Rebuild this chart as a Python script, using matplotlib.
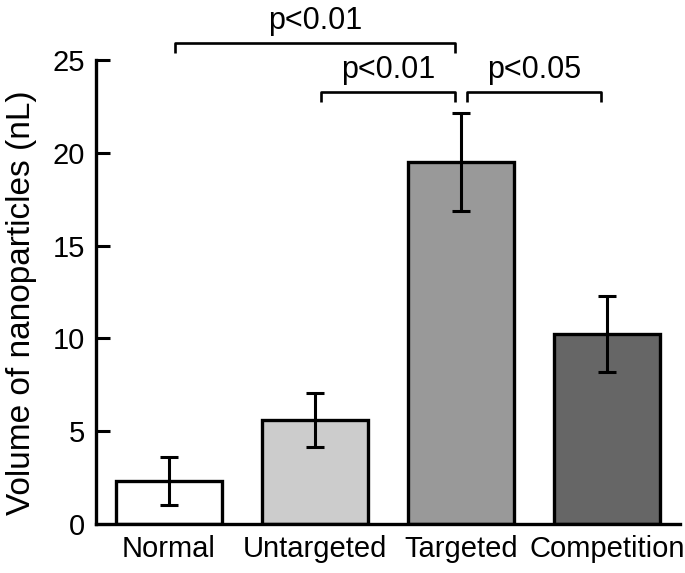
import matplotlib
matplotlib.use("Agg")
import matplotlib.pyplot as plt

categories = ["Normal", "Untargeted", "Targeted", "Competition"]
values = [2.3, 5.6, 19.5, 10.25]
errors = [1.3, 1.47, 2.65, 2.05]
colors = ["#ffffff", "#cccccc", "#999999", "#666666"]
yticks = [0, 5, 10, 15, 20, 25]
# (left index, right index, bracket y, label)
comparisons = [(0, 2, 25.92, "p<0.01"), (1, 2, 23.29, "p<0.01"), (2, 3, 23.29, "p<0.05")]

plt.rcParams['font.family'] = ['Liberation Sans', 'DejaVu Sans']
fig = plt.figure(figsize=(6.85, 5.73), dpi=100)
ax = fig.add_axes([96/685, 49/573, 584/685, 464/573])

x = list(range(len(categories)))
ax.bar(x, values, width=0.72, color=colors, edgecolor="black", linewidth=2.4, zorder=2)
ax.errorbar(x, values, yerr=errors, fmt="none", ecolor="black", elinewidth=2.2,
            capsize=6.3, capthick=2.2, zorder=3)

ax.set_xlim(-0.5, 3.5)
ax.set_ylim(0, 25)
ax.set_yticks(yticks)
ax.set_yticklabels([str(t) for t in yticks])
ax.set_xticks(x)
ax.set_xticklabels(categories)
ax.tick_params(axis="y", direction="in", length=10, width=2.2, labelsize=21, pad=8)
ax.tick_params(axis="x", length=0, labelsize=21, pad=8)
for s in ["top", "right"]:
    ax.spines[s].set_visible(False)
for s in ["left", "bottom"]:
    ax.spines[s].set_linewidth(2.4)
ax.set_ylabel("Volume of nanoparticles (nL)", fontsize=24)
ax.yaxis.set_label_coords(-0.101, 0.477)

inset = 0.04
drop = 0.54
for i, j, y, lab in comparisons:
    x0 = i + inset
    x1 = j - inset
    ax.plot([x0, x0, x1, x1], [y - drop, y, y, y - drop], color="black", lw=1.9,
            clip_on=False, solid_capstyle="butt")
    ax.text((x0 + x1) / 2, y + 0.75, lab, ha="center", va="baseline", fontsize=22)

fig.savefig("out.png", dpi=100)
